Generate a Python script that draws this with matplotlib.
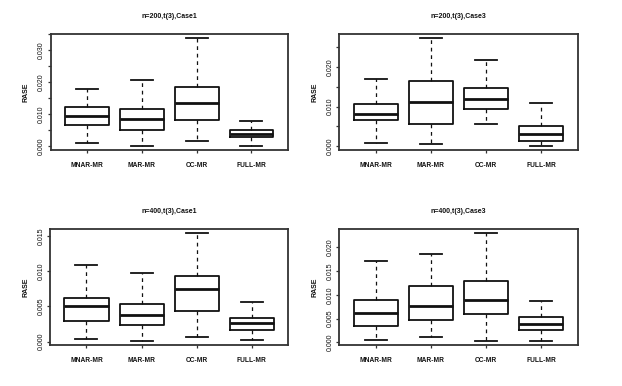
import matplotlib
matplotlib.use("Agg")
import matplotlib.pyplot as plt
import matplotlib.ticker as ticker

plt.rcParams["font.family"] = ["Liberation Sans", "DejaVu Sans"]

methods = ["MNAR-MR", "MAR-MR", "CC-MR", "FULL-MR"]

# five-number summaries per panel: whislo, q1, med, q3, whishi
n200_case1 = [
    [0.0011, 0.0068, 0.0095, 0.0123, 0.0179],
    [0.0003, 0.0052, 0.0084, 0.0117, 0.0207],
    [0.0018, 0.0083, 0.0136, 0.0185, 0.0338],
    [0.0002, 0.0029, 0.0040, 0.0051, 0.0080],
]
n200_case3 = [
    [0.0007, 0.0067, 0.0081, 0.0108, 0.0169],
    [0.0005, 0.0057, 0.0113, 0.0164, 0.0274],
    [0.0057, 0.0093, 0.0120, 0.0147, 0.0219],
    [0.0001, 0.0012, 0.0031, 0.0052, 0.0109],
]
n400_case1 = [
    [0.0004, 0.0029, 0.0050, 0.0062, 0.0108],
    [0.0001, 0.0024, 0.0038, 0.0054, 0.0098],
    [0.0007, 0.0044, 0.0075, 0.0093, 0.0154],
    [0.0002, 0.0016, 0.0026, 0.0033, 0.0056],
]
n400_case3 = [
    [0.0006, 0.0035, 0.0062, 0.0090, 0.0171],
    [0.0011, 0.0048, 0.0077, 0.0118, 0.0186],
    [0.0003, 0.0060, 0.0089, 0.0130, 0.0230],
    [0.0003, 0.0026, 0.0038, 0.0053, 0.0088],
]

panels = [
    ("n=200,t(3),Case1", n200_case1, [0.0, 0.010, 0.020, 0.030]),
    ("n=200,t(3),Case3", n200_case3, [0.0, 0.010, 0.020]),
    ("n=400,t(3),Case1", n400_case1, [0.0, 0.005, 0.010, 0.015]),
    ("n=400,t(3),Case3", n400_case3, [0.0, 0.005, 0.010, 0.015, 0.020]),
]

# axes rectangles in figure fraction
rects = [
    [0.0815, 0.611, 0.381, 0.302],
    [0.5455, 0.611, 0.383, 0.302],
    [0.0805, 0.1055, 0.383, 0.302],
    [0.5455, 0.1055, 0.383, 0.302],
]

fig = plt.figure(figsize=(6.22, 3.86), dpi=100)
frame_col = "#333333"

for (title, data, labels), rect in zip(panels, rects):
    ax = fig.add_axes(rect)
    stats = []
    for name, (lo, q1, med, q3, hi) in zip(methods, data):
        stats.append({"label": name, "whislo": lo, "q1": q1, "med": med,
                      "q3": q3, "whishi": hi, "fliers": []})
    ax.bxp(stats, positions=[1, 2, 3, 4], widths=0.8, showfliers=False,
           boxprops=dict(color="#111111", linewidth=1.3),
           medianprops=dict(color="#111111", linewidth=2.0),
           whiskerprops=dict(color="#111111", linewidth=0.9, linestyle=(0, (3, 3))),
           capprops=dict(color="#111111", linewidth=1.3),
           capwidths=0.4)

    lo = min(d[0] for d in data)
    hi = max(d[4] for d in data)
    pad = 0.04 * (hi - lo)
    ax.set_ylim(lo - pad, hi + pad)
    ax.set_xlim(0.5 - 0.16, 4.5 + 0.16)

    ax.yaxis.set_major_locator(ticker.FixedLocator(labels))
    ax.yaxis.set_minor_locator(ticker.MultipleLocator(0.005))
    ax.yaxis.set_major_formatter(ticker.FuncFormatter(lambda v, _: f"{v:.3f}"))
    ax.tick_params(axis="y", which="both", length=2.5, width=0.9, colors=frame_col,
                   labelsize=5, labelcolor="#111111", pad=1.5)
    for lab in ax.get_yticklabels():
        lab.set_rotation(90)
        lab.set_va("center")
    ax.tick_params(axis="x", length=2.5, width=0.9, colors=frame_col,
                   labelsize=4.8, labelcolor="#111111", pad=6)
    for lab in ax.get_xticklabels():
        lab.set_fontweight("bold")
    for sp in ax.spines.values():
        sp.set_color(frame_col)
        sp.set_linewidth(1.3)

    ax.set_ylabel("RASE", fontsize=5, fontweight="bold", labelpad=6, color="#111111")
    ax.set_title(title, fontsize=5, fontweight="bold", pad=11, color="#111111")

fig.savefig("out.png", dpi=100)
